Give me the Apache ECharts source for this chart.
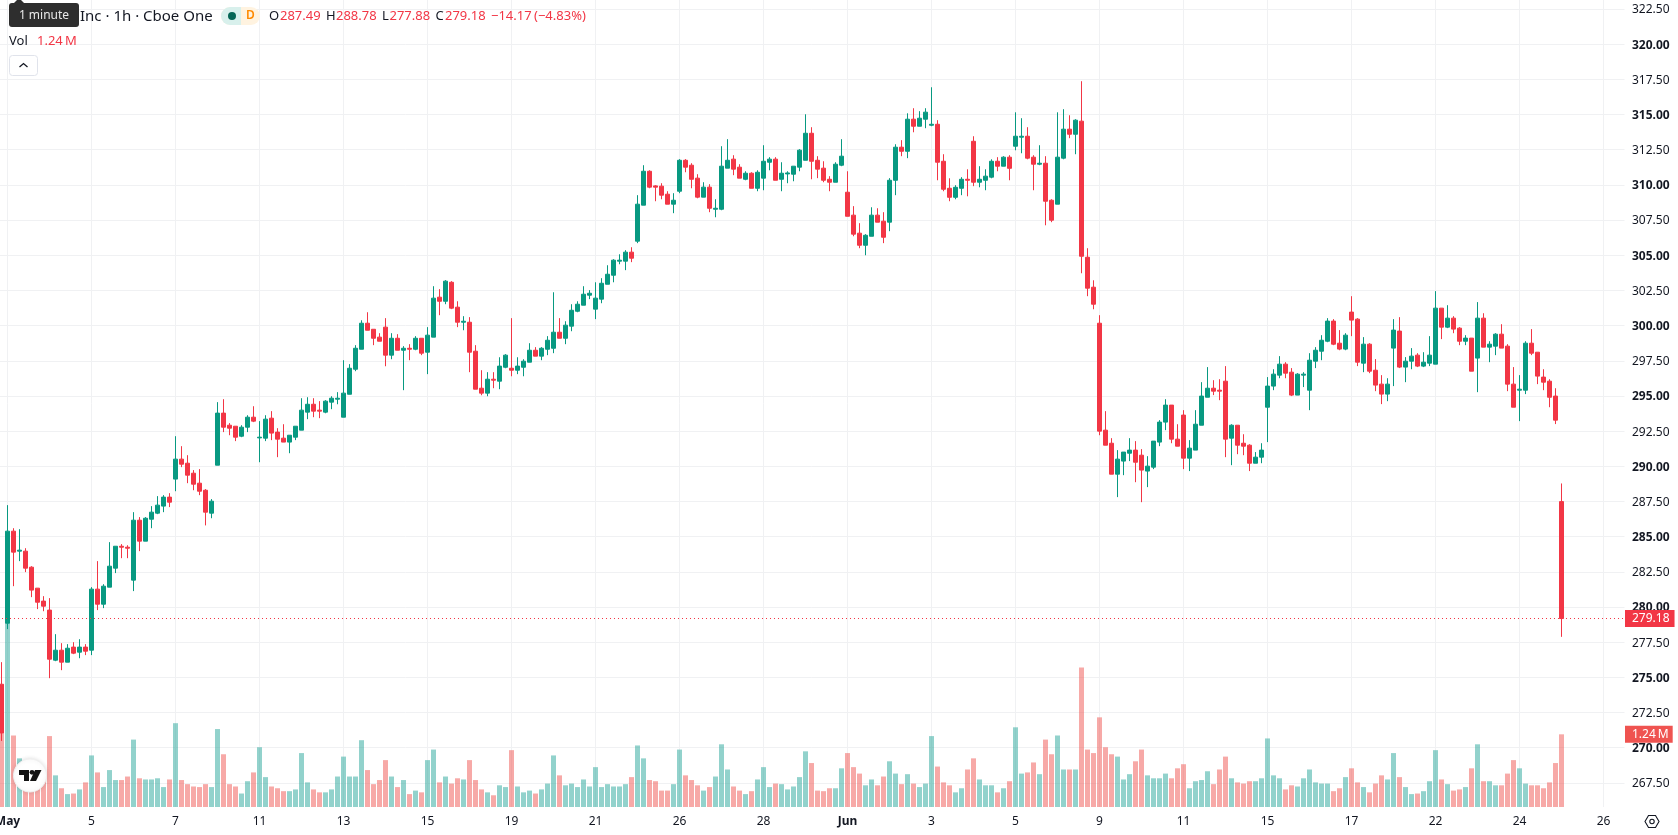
<!DOCTYPE html>
<html>
<head>
<meta charset="utf-8">
<title>1h candlestick chart</title>
<script src="https://cdn.jsdelivr.net/npm/echarts@6/dist/echarts.min.js"></script>
<style>
html,body{margin:0;padding:0;background:#fff;overflow:hidden}
#chart{width:1678px;height:835px}
</style>
</head>
<body>
<div id="chart"></div>
<script>
// Hourly sessions, ten values per row, oldest first.
const opens = [
274.51,278.85,285.39,283.97,283.97,282.83,281.34,280.42,279.78,276.22,
276.93,276.08,277.15,276.79,277.15,276.93,281.27,280.20,281.41,282.76,
284.32,284.25,281.91,286.17,284.68,286.24,286.67,287.17,287.81,289.09,
290.51,290.22,289.51,288.80,288.30,286.67,290.08,293.78,292.92,292.85,
292.14,292.78,293.49,292.02,292.00,293.42,292.43,292.00,291.72,292.07,
292.57,293.85,294.41,293.99,293.85,294.56,294.77,293.49,295.12,296.90,
298.32,300.17,299.74,299.18,299.89,297.90,299.10,298.25,298.39,298.32,
299.10,298.11,299.18,302.02,301.73,303.08,301.31,300.24,300.24,298.18,
295.55,295.20,296.19,296.05,297.04,296.97,296.83,297.04,297.40,298.25,
297.83,298.32,298.39,299.53,299.10,299.96,301.02,301.45,302.16,301.17,
301.88,302.94,303.58,304.58,304.58,305.22,306.00,308.56,310.97,309.93,
309.91,309.34,308.63,309.55,311.75,311.40,310.48,309.13,309.84,308.27,
308.27,311.19,311.83,311.26,310.40,310.83,309.76,310.48,311.61,311.83,
310.40,310.78,310.76,311.26,311.75,313.67,311.75,311.19,310.40,310.19,
311.40,309.48,307.85,306.57,305.71,306.35,307.85,307.42,307.35,310.33,
312.68,312.39,314.67,314.17,314.67,314.24,314.31,311.68,309.76,309.12,
309.76,310.40,313.10,310.19,310.33,310.55,311.68,311.33,311.97,312.75,
313.39,313.46,311.97,311.47,311.54,308.91,308.63,311.90,313.96,313.60,
314.53,304.86,302.73,300.17,292.57,291.64,289.44,290.37,290.93,291.15,
290.79,289.66,289.94,291.72,293.14,294.35,291.93,293.64,290.58,291.15,
292.92,294.91,295.55,295.41,296.05,292.00,292.92,291.64,291.50,290.22,
290.65,294.20,295.70,296.48,297.26,296.69,295.06,296.48,295.41,297.47,
298.18,298.89,300.32,298.75,298.33,300.96,300.46,297.33,298.68,296.83,
295.84,295.13,298.40,299.61,297.05,297.47,297.90,297.12,297.33,297.26,
301.24,299.89,300.53,299.82,298.89,299.11,297.69,300.53,298.47,298.54,
299.39,298.54,295.84,295.41,295.41,298.75,298.11,296.34,296.05,294.99,
287.49];

const closes = [
271.05,285.39,283.90,284.04,282.76,281.20,280.34,280.06,276.29,276.93,
276.08,277.07,276.72,277.15,276.86,281.27,280.20,281.48,282.90,284.32,
284.25,284.18,286.17,284.68,286.31,286.74,287.24,287.81,287.45,290.51,
290.15,289.37,288.73,288.23,286.74,287.52,293.78,292.78,292.71,292.07,
292.78,293.49,293.21,292.07,293.35,292.36,291.93,291.72,292.21,292.85,
293.99,294.41,293.92,293.92,294.63,294.84,294.84,295.20,296.97,298.39,
300.17,299.67,299.10,298.89,297.90,299.10,298.25,298.39,298.32,299.10,
298.04,299.32,301.95,301.73,303.16,301.24,300.24,300.31,298.11,295.48,
295.20,296.19,296.12,297.12,297.90,296.83,297.12,297.47,298.25,297.83,
298.39,298.96,299.53,299.10,300.03,301.09,301.52,302.23,302.30,301.95,
303.01,303.65,304.65,304.65,305.22,304.79,308.63,310.97,309.84,309.84,
309.27,308.63,308.91,311.75,311.26,310.40,309.13,309.84,308.34,308.34,
311.33,311.75,311.12,310.48,310.83,309.76,310.90,311.68,311.83,310.33,
310.83,310.85,311.33,312.47,313.67,311.68,311.12,310.33,310.19,311.47,
312.04,307.77,306.50,305.71,306.42,307.85,307.35,306.28,310.33,312.68,
312.39,314.67,314.17,314.74,315.17,314.31,311.61,309.69,309.12,309.83,
310.40,310.33,310.19,310.40,310.62,311.68,311.33,311.97,311.18,313.46,
313.46,311.90,311.47,311.54,308.84,307.49,311.97,313.96,313.60,314.60,
304.93,302.66,301.52,292.50,291.50,289.44,290.51,291.01,291.15,290.29,
289.73,290.01,291.79,293.14,294.35,291.93,291.43,290.58,291.29,292.99,
294.99,295.55,295.34,295.34,291.93,292.92,291.50,291.43,290.22,290.65,
291.15,295.70,296.55,297.26,296.62,295.06,296.55,296.55,297.54,298.25,
298.96,300.32,298.68,298.33,299.32,300.39,297.40,298.68,296.76,295.77,
295.13,295.84,299.68,297.05,297.47,297.83,297.12,297.40,297.90,301.24,
299.89,300.53,299.75,298.89,299.11,296.76,300.53,298.47,298.68,299.39,
298.40,295.84,294.20,295.48,298.75,298.04,296.41,295.98,294.91,293.28,
279.18];

const highs = [
276.08,287.24,285.60,285.53,284.18,282.90,281.34,280.77,280.63,278.07,
277.43,277.36,277.50,277.71,277.36,281.41,283.26,281.62,284.61,284.32,
284.47,284.39,286.74,286.39,286.39,287.17,287.88,287.95,288.09,292.14,
291.43,290.79,289.73,289.80,288.38,287.67,294.56,294.77,293.07,292.85,
292.92,293.63,294.27,293.21,293.63,293.92,292.71,292.99,292.21,292.85,
294.84,294.91,294.84,294.63,294.70,294.98,295.27,297.54,297.26,298.61,
300.38,300.95,299.74,299.46,300.53,299.46,299.39,298.54,298.68,299.25,
299.10,299.89,302.80,302.59,303.23,303.16,301.73,300.67,300.60,298.61,
296.83,296.69,296.69,297.75,297.97,300.53,297.75,297.61,298.75,298.47,
298.47,299.25,302.37,300.53,300.31,301.52,301.73,302.80,302.52,303.08,
303.37,304.29,304.72,305.07,305.36,305.57,309.27,311.40,311.04,309.98,
310.12,309.55,309.41,311.83,311.83,311.54,310.76,310.19,310.05,308.98,
312.75,313.25,312.11,311.47,310.97,310.90,311.04,312.82,311.97,311.97,
311.61,310.97,311.33,312.54,315.02,314.10,312.04,311.68,310.62,311.61,
313.25,310.97,308.49,307.28,306.50,308.41,308.34,308.06,310.48,312.89,
313.18,315.09,315.45,315.24,315.45,316.94,314.60,312.18,310.47,309.98,
310.55,311.11,313.46,311.33,311.11,311.82,311.97,312.04,312.11,315.16,
314.74,314.10,312.11,312.82,312.04,308.98,315.16,315.38,314.95,314.67,
317.37,305.50,303.22,300.74,293.92,292.00,291.15,291.01,292.00,291.79,
291.22,290.72,291.79,293.28,294.77,294.35,292.99,293.99,291.86,293.99,
295.98,297.05,296.12,296.19,297.12,292.99,292.92,292.28,291.57,291.01,
291.64,296.34,296.90,297.83,297.40,296.98,296.62,296.69,298.04,298.47,
299.32,300.53,300.46,299.68,299.46,302.09,300.53,299.18,298.75,297.62,
296.48,296.26,300.46,300.60,297.76,298.40,298.04,298.11,299.25,302.45,
301.24,301.45,300.67,299.89,299.32,299.11,301.67,300.88,298.89,299.46,
300.10,298.68,297.05,296.48,298.89,299.75,298.11,296.90,296.19,295.55,
288.78];

const lows = [
270.48,278.43,281.48,283.26,282.48,280.70,279.85,279.70,274.94,276.15,
275.51,276.08,276.65,276.36,276.58,276.58,279.78,279.92,281.41,282.41,
283.47,283.47,281.13,283.97,284.68,285.60,286.60,286.74,287.10,288.23,
289.94,288.80,288.30,287.95,285.80,286.31,290.08,292.43,292.21,291.79,
292.07,292.43,293.14,290.29,291.79,291.86,290.65,291.72,290.93,291.86,
292.57,293.35,293.49,293.42,293.77,294.06,294.41,293.49,295.12,296.76,
298.32,299.67,298.61,298.89,297.11,297.61,298.25,295.41,297.54,298.25,
297.90,296.55,299.18,300.74,301.52,301.17,299.89,299.67,296.69,295.48,
295.05,294.98,295.55,295.48,296.97,296.40,296.55,296.40,297.40,297.83,
297.54,297.90,298.04,299.10,298.68,299.60,300.95,301.45,301.88,300.46,
301.59,302.94,303.08,304.36,303.94,304.51,305.86,308.56,309.76,308.84,
308.98,308.63,307.99,309.41,310.90,309.76,309.05,309.13,308.06,307.70,
308.20,311.19,310.69,310.48,310.33,309.76,309.55,309.62,311.04,310.33,
309.55,310.12,310.26,310.97,311.75,310.40,310.48,310.19,309.55,310.19,
311.33,307.77,306.35,305.50,305.00,306.35,307.35,305.86,306.71,309.27,
312.04,311.90,313.74,314.17,314.03,314.17,310.33,309.55,308.84,308.98,
309.27,309.19,309.91,309.83,309.62,310.47,310.97,311.33,310.33,312.46,
312.25,311.82,309.62,311.40,307.13,307.35,308.63,311.82,313.32,312.18,
303.72,302.09,301.16,292.21,291.50,289.44,287.81,289.37,290.37,288.87,
287.45,288.52,289.80,291.43,292.57,291.64,291.43,289.80,289.66,291.15,
292.92,294.91,295.06,294.70,290.65,290.08,290.86,290.79,289.66,290.22,
290.22,291.72,295.41,296.26,296.26,294.99,295.06,295.63,293.99,296.98,
297.54,298.82,298.61,298.25,298.25,299.25,297.12,296.69,296.62,295.34,
294.42,294.63,295.70,296.98,295.98,296.90,297.05,297.05,297.12,297.26,
299.04,299.82,299.46,298.61,298.61,296.76,295.27,298.47,297.40,297.90,
298.40,295.34,294.20,293.21,295.13,297.90,295.84,295.41,294.20,293.00,
277.88];

// Traded volume per session, in millions of shares.
const volumes = [
1.30,3.40,1.22,.83,.46,.40,.46,.49,1.21,.54,
.32,.22,.23,.30,.42,.88,.59,.34,.63,.46,
.46,.52,1.15,.49,.47,.47,.49,.34,.47,1.43,
.46,.39,.35,.34,.39,.34,1.33,.90,.39,.35,
.23,.44,.59,1.02,.51,.35,.32,.27,.27,.30,
.92,.42,.30,.25,.25,.30,.52,.86,.52,.52,
1.14,.63,.39,.46,.80,.52,.34,.46,.22,.28,
.25,.80,.98,.42,.52,.40,.49,.47,.80,.46,
.30,.25,.20,.37,.34,.97,.35,.25,.28,.23,
.30,.40,.88,.54,.37,.40,.34,.47,.35,.68,
.34,.39,.35,.35,.39,.51,1.05,.83,.46,.44,
.28,.28,.39,.98,.54,.46,.37,.28,.34,.52,
1.07,.64,.35,.28,.22,.27,.47,.68,.34,.40,
.39,.30,.35,.51,.95,.75,.28,.27,.32,.32,
.66,.92,.68,.57,.37,.47,.37,.52,.78,.57,
.39,.56,.40,.34,.40,1.21,.69,.42,.37,.25,
.32,.64,.83,.47,.37,.37,.25,.32,.44,1.36,
.57,.59,.76,.56,1.15,.90,1.22,.64,.64,.64,
2.38,.98,.92,1.53,1.02,.90,.86,.47,.56,.78,
.98,.54,.49,.49,.57,.49,.66,.73,.32,.44,
.46,.61,.39,.64,.86,.49,.42,.40,.44,.44,
.49,1.17,.54,.49,.30,.37,.35,.49,.64,.42,
.40,.40,.27,.32,.51,.66,.42,.34,.25,.40,
.54,.47,.92,.51,.34,.22,.23,.27,.44,.97,
.47,.39,.28,.30,.34,.66,1.07,.44,.44,.37,
.37,.57,.80,.66,.40,.37,.37,.32,.42,.75,
1.24];

// Date ticks, one every fourteen sessions starting from the session after the first.
const tickLabels = ['May','5','7','11','13','15','19','21','26','28','Jun','3','5','9','11','15','17','22','24','26'];
const boldTicks = ['May','Jun'];

const lastPrice = 279.18;
const lastVolume = 1.24;
const sessionsPerTick = 14;
const slotCount = 271;

const UP = '#089981', DOWN = '#f23645';
const INK = '#131722';
const GRID = '#f0f1f3';
const FONT = '"Noto Sans", sans-serif';

const categories = [];
for (let k = 0; k < slotCount; k++) {
  const tick = (k - 1) / sessionsPerTick;
  categories.push(Number.isInteger(tick) && tickLabels[tick] ? tickLabels[tick] : String(k));
}
const isTick = k => k >= 1 && (k - 1) % sessionsPerTick === 0;

const candleData = opens.map((o, i) => [o, closes[i], lows[i], highs[i]]);
const volumeData = volumes.map((v, i) => ({
  value: v,
  itemStyle: { color: closes[i] >= opens[i] ? 'rgba(38,166,154,0.5)' : 'rgba(239,83,80,0.5)' }
}));

const text = (x, y, s, fill, size, extra) => ({
  type: 'text', x, y, silent: true, z: 100,
  style: Object.assign({ text: s, fill, font: size + 'px ' + FONT, textVerticalAlign: 'middle' }, extra || {})
});

const header = [
  text(80, 17, 'Inc · 1h · Cboe One', INK, 15),
  // tooltip chip over the symbol name
  { type: 'polygon', silent: true, z: 101, shape: { points: [[13, 4], [17, 0], [21, 0], [25, 4]] }, style: { fill: '#2e2e2e' } },
  { type: 'rect', silent: true, z: 101, shape: { x: 9, y: 3, width: 70, height: 24, r: 3 }, style: { fill: '#2e2e2e' } },
  { type: 'text', silent: true, z: 102, x: 44, y: 15.5, style: { text: '1 minute', fill: '#e8e8e8', font: '12px ' + FONT, textAlign: 'center', textVerticalAlign: 'middle' } },
  // market status pill
  { type: 'rect', silent: true, z: 100, shape: { x: 221, y: 7, width: 39, height: 18, r: 9 }, style: { fill: '#fff3e0' } },
  { type: 'rect', silent: true, z: 100, shape: { x: 221, y: 7, width: 20, height: 18, r: [9, 0, 0, 9] }, style: { fill: '#d8f0ec' } },
  { type: 'circle', silent: true, z: 101, shape: { cx: 232, cy: 16, r: 4 }, style: { fill: '#056656' } },
  { type: 'text', silent: true, z: 101, x: 250.5, y: 16, style: { text: 'D', fill: '#ff8a00', font: '600 12px ' + FONT, textAlign: 'center', textVerticalAlign: 'middle' } },
  // OHLC readout
  text(269, 16.5, 'O', INK, 13),
  text(280, 16.5, '287.49', DOWN, 13),
  text(326, 16.5, 'H', INK, 13),
  text(336, 16.5, '288.78', DOWN, 13),
  text(382, 16.5, 'L', INK, 13),
  text(389.5, 16.5, '277.88', DOWN, 13),
  text(435.5, 16.5, 'C', INK, 13),
  text(445, 16.5, '279.18', DOWN, 13),
  text(491, 16.5, '−14.17', DOWN, 13),
  text(534, 16.5, '(−4.83%)', DOWN, 13),
  // volume readout
  text(9, 41.5, 'Vol', INK, 13),
  text(37, 41.5, '1.24\u2009M', DOWN, 13),
  // collapse button
  { type: 'rect', silent: true, z: 100, shape: { x: 9.5, y: 55.5, width: 28, height: 20, r: 3 }, style: { fill: '#fff', stroke: '#e0e3eb', lineWidth: 1 } },
  { type: 'polyline', silent: true, z: 101, shape: { points: [[19.5, 67], [23.5, 63.5], [27.5, 67]] }, style: { fill: 'none', stroke: INK, lineWidth: 1.3 } },
  // watermark badge
  { type: 'circle', silent: true, z: 100, shape: { cx: 30, cy: 775.5, r: 16.5 }, style: { fill: '#fff', stroke: '#f0f0f0', lineWidth: 1, shadowBlur: 4, shadowColor: 'rgba(0,0,0,0.12)' } },
  { type: 'polygon', silent: true, z: 101, shape: { points: [[19, 770], [29, 770], [29, 781], [24, 781], [24, 775], [19, 775]] }, style: { fill: '#131313' } },
  { type: 'circle', silent: true, z: 101, shape: { cx: 32, cy: 772.3, r: 2.4 }, style: { fill: '#131313' } },
  { type: 'polygon', silent: true, z: 101, shape: { points: [[35, 770], [41.5, 770], [36, 781], [30, 781]] }, style: { fill: '#131313' } },
  // settings hexagon
  { type: 'polygon', silent: true, z: 100, shape: { points: [[1645, 821.5], [1648.5, 815.5], [1655.5, 815.5], [1659, 821.5], [1655.5, 827.5], [1648.5, 827.5]] }, style: { fill: 'none', stroke: INK, lineWidth: 1.1 } },
  { type: 'circle', silent: true, z: 100, shape: { cx: 1652, cy: 821.5, r: 2.2 }, style: { fill: 'none', stroke: INK, lineWidth: 1.1 } }
];

const chart = echarts.init(document.getElementById('chart'), null, { renderer: 'canvas' });
chart.setOption({
  animation: false,
  backgroundColor: '#ffffff',
  graphic: header,
  grid: [
    { left: -1.5, width: 1626, top: -26.15, height: 809.03, outerBoundsMode: 'none' },
    { left: -1.5, width: 1626, top: 0, height: 807, outerBoundsMode: 'none' }
  ],
  xAxis: [
    { type: 'category', gridIndex: 0, data: categories, show: false },
    {
      type: 'category', gridIndex: 1, data: categories,
      axisLine: { show: false }, axisTick: { show: false },
      axisLabel: {
        interval: (k) => isTick(k),
        hideOverlap: false,
        margin: 9,
        fontFamily: FONT, fontSize: 12, color: INK,
        formatter: (v) => boldTicks.includes(v) ? '{b|' + v + '}' : v,
        rich: { b: { fontFamily: FONT, fontSize: 12, fontWeight: 'bold', color: INK } }
      },
      splitLine: { show: true, alignWithLabel: true, interval: (k) => isTick(k), lineStyle: { color: GRID, width: 1 } }
    }
  ],
  yAxis: [
    {
      type: 'value', gridIndex: 0, position: 'right', scale: true,
      min: 267.5, max: 325, interval: 2.5,
      axisLine: { show: false }, axisTick: { show: false },
      axisLabel: {
        margin: 7.5, fontFamily: FONT, fontSize: 12, color: INK, padding: [2, 0, 0, 0],
        showMinLabel: true, showMaxLabel: true,
        formatter: (v) => v % 5 === 0 ? '{b|' + v.toFixed(2) + '}' : v.toFixed(2),
        rich: { b: { fontFamily: FONT, fontSize: 12, fontWeight: 'bold', color: INK } }
      },
      splitLine: { show: true, lineStyle: { color: GRID, width: 1 } }
    },
    { type: 'value', gridIndex: 1, min: 0, max: 13.77, show: false, splitLine: { show: false } }
  ],
  series: [
    {
      name: 'Volume', type: 'bar', xAxisIndex: 1, yAxisIndex: 1, z: 2,
      barWidth: 5, data: volumeData, silent: true,
      markLine: {
        silent: true, symbol: 'none', animation: false,
        lineStyle: { color: 'rgba(0,0,0,0)', width: 1 },
        data: [{ yAxis: lastVolume }],
        label: {
          show: true, position: 'end', distance: 0.5,
          formatter: (p) => p.value.toFixed(2) + '\u2009M',
          color: '#fff', fontFamily: FONT, fontSize: 12,
          backgroundColor: '#ef5350', padding: [2, 4, 2, 7], lineHeight: 13
        }
      }
    },
    {
      name: 'Price', type: 'candlestick', xAxisIndex: 0, yAxisIndex: 0, z: 3,
      barWidth: 5, data: candleData, silent: true, clip: false,
      itemStyle: { color: UP, color0: DOWN, borderColor: UP, borderColor0: DOWN, borderWidth: 1 },
      markLine: {
        silent: true, symbol: 'none', animation: false,
        // the half-pixel offset keeps the dots on whole pixels, since the line starts at x = -1.5
        lineStyle: { color: DOWN, type: [1, 3], dashOffset: 0.5, width: 1 },
        data: [{ yAxis: lastPrice }],
        label: {
          show: true, position: 'end', distance: 0.5,
          formatter: (p) => p.value.toFixed(2),
          color: '#fff', fontFamily: FONT, fontSize: 12,
          backgroundColor: DOWN, padding: [2, 5, 2, 7], lineHeight: 13
        }
      }
    }
  ]
});
</script>
</body>
</html>
